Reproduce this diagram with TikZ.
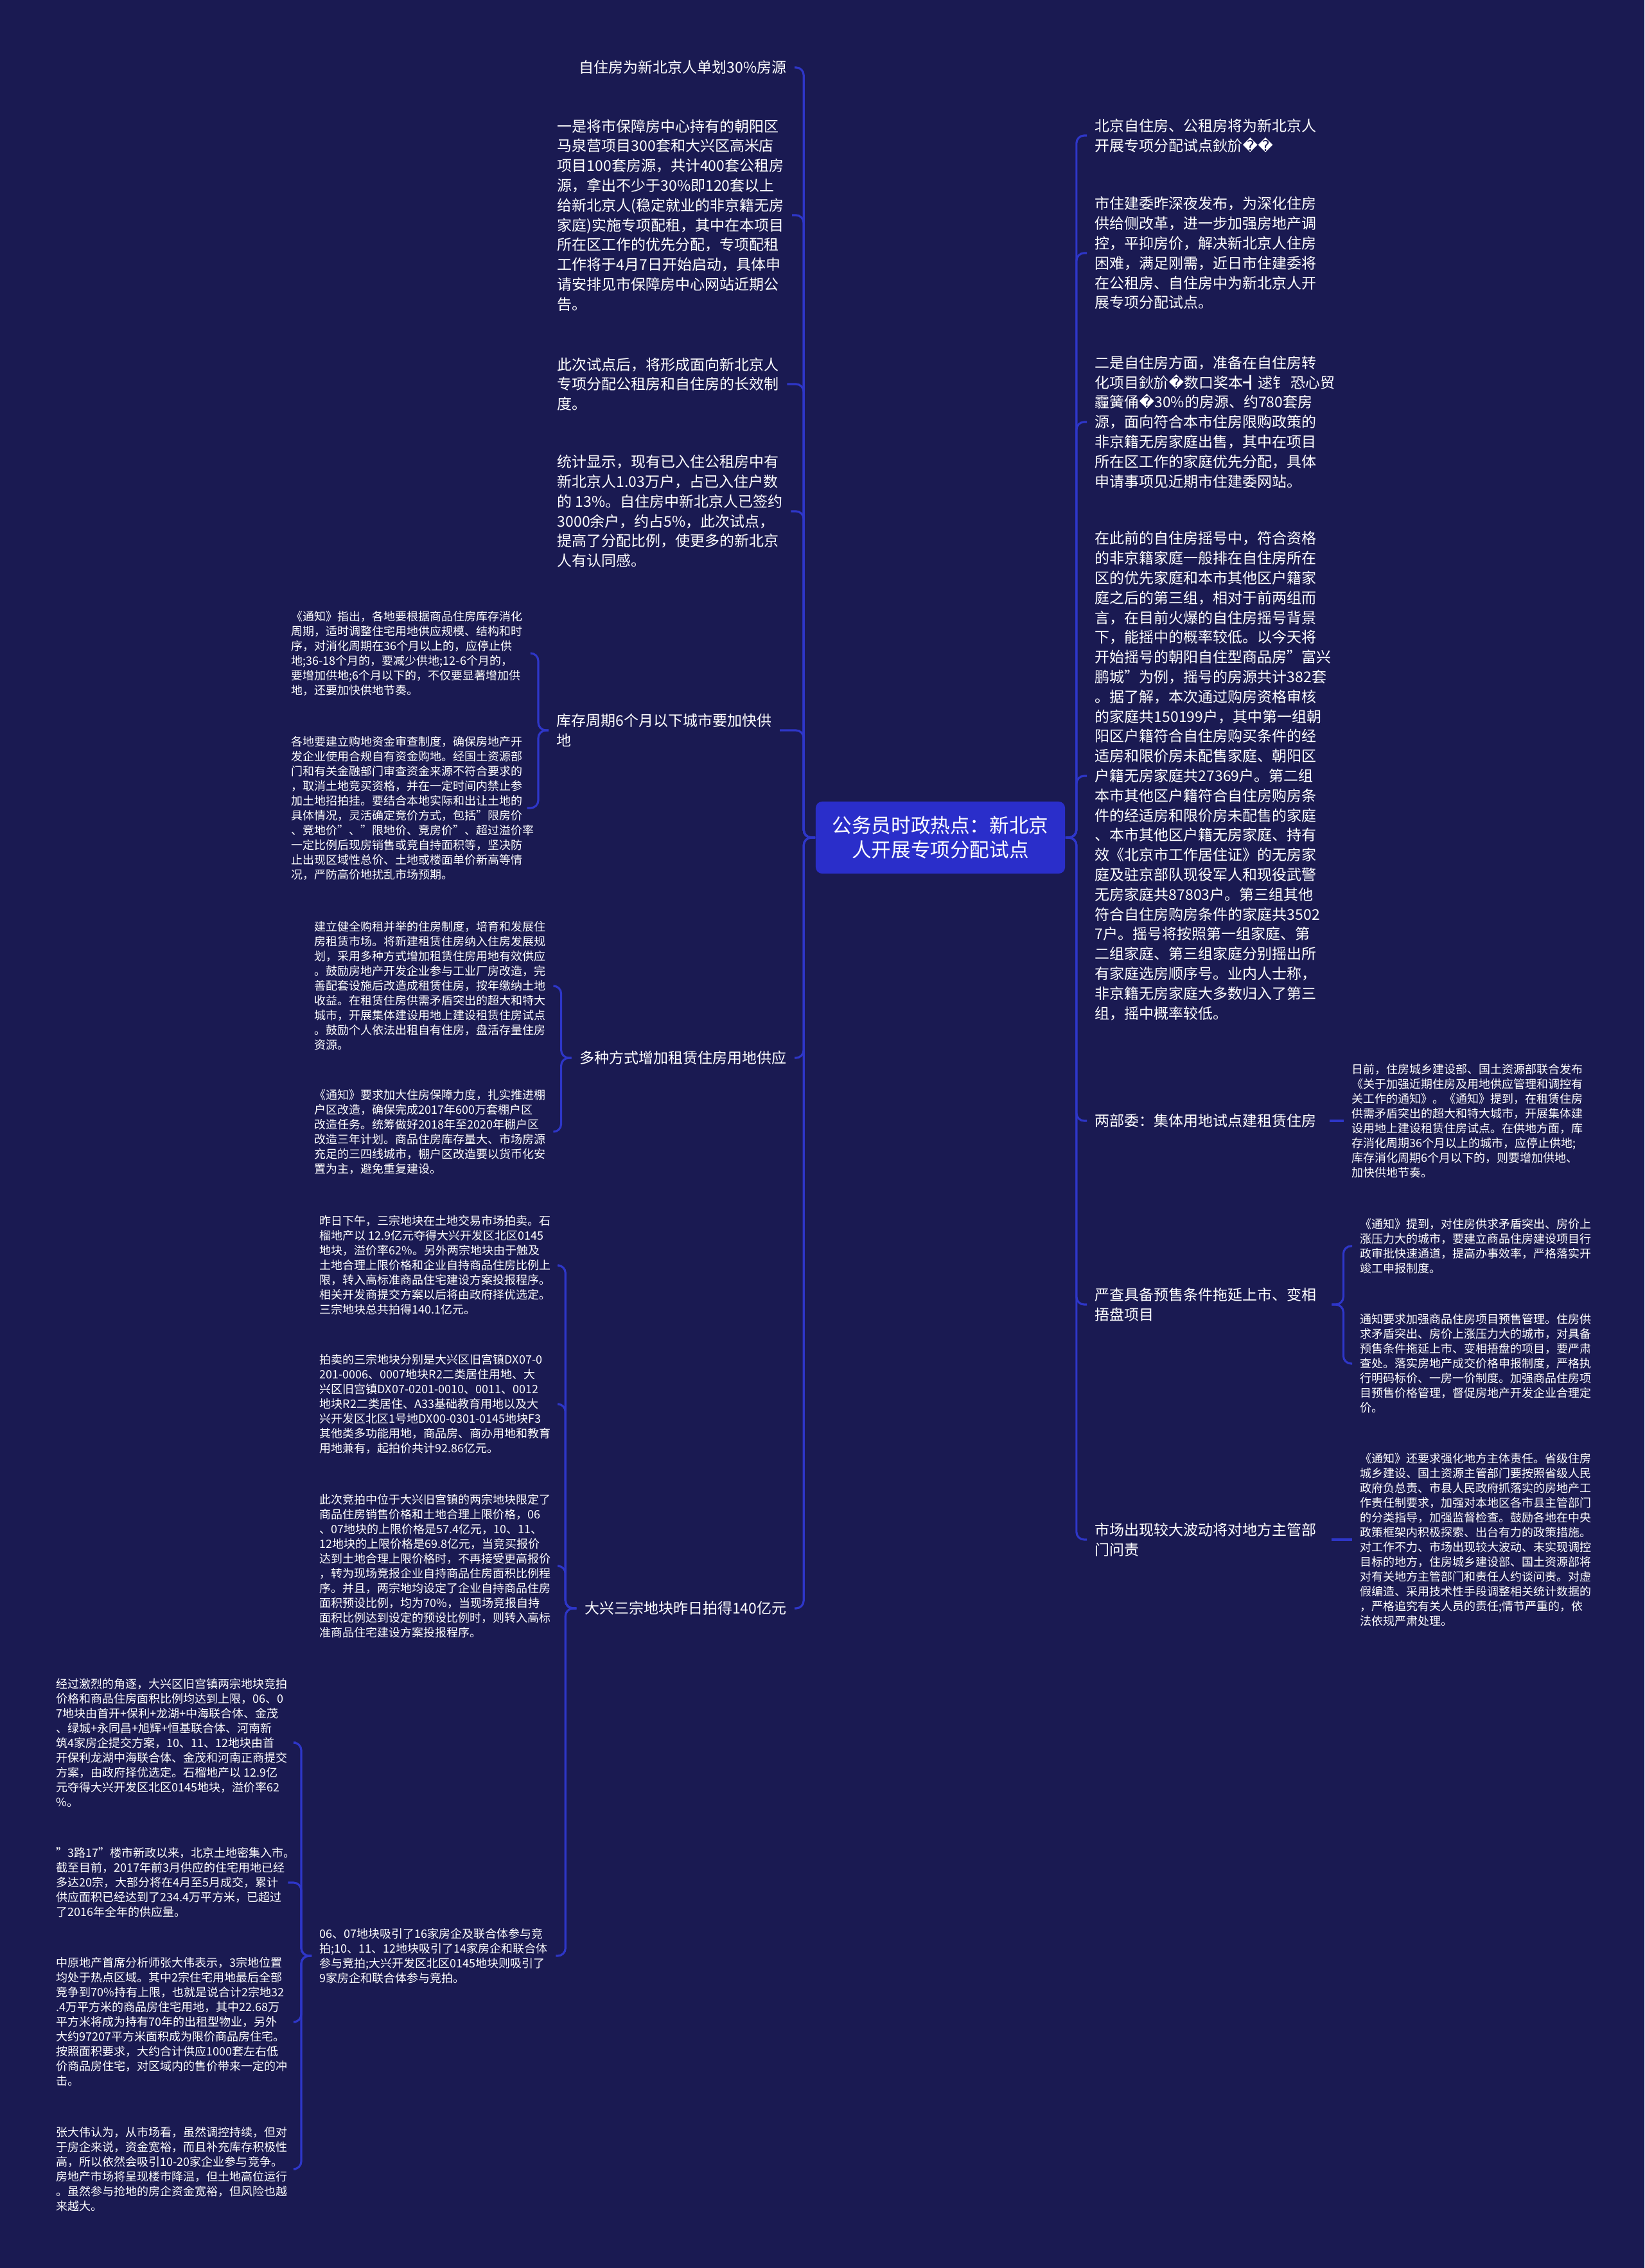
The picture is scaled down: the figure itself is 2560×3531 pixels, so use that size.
\documentclass[tikz,border=0pt]{standalone}
\usepackage{fontspec}
\setmainfont{Noto Sans CJK SC}
\newfontfamily\replfont{DejaVu Sans}
\usepackage{xcolor}
\usepackage{tikz}
\usetikzlibrary{positioning}

\definecolor{bgnavy}{HTML}{1A1A52}
\definecolor{lineblue}{HTML}{2E36C8}
\definecolor{rootblue}{HTML}{2A2ECA}

\begin{document}
\begin{tikzpicture}[
    x=0.01cm, y=-0.01cm,
    rootnode/.style={rectangle, fill=rootblue, rounded corners=0.1cm, text=white, font=\fontsize{8.7}{10.8}\selectfont, align=center, minimum width=3.88cm, minimum height=1.12cm, inner sep=0pt},
    topic/.style={text=white, font=\fontsize{6.54}{8.76}\selectfont, align=left, inner sep=0pt},
    leaf/.style={text=white, font=\fontsize{5.12}{6.54}\selectfont, align=left, inner sep=0pt},
    link/.style={draw=lineblue, line width=0.9pt, rounded corners=0.12cm, shorten >=0.12cm},
]

% Background
\fill[bgnavy] (0,0) rectangle (2560,3531);
\useasboundingbox (0,0) rectangle (2560,3531);

% Root
\node[rootnode] (root) at (1464, 1304) {公务员时政热点：新北京\\人开展专项分配试点};

% Left branches
\node[topic, anchor=east] (l1) at (1225, 105) {自住房为新北京人单划30\%房源};
\node[topic, anchor=west] (l2) at (867, 335) {一是将市保障房中心持有的朝阳区\\马泉营项目300套和大兴区高米店\\项目100套房源，共计400套公租房\\源，拿出不少于30\%即120套以上\\给新北京人(稳定就业的非京籍无房\\家庭)实施专项配租，其中在本项目\\所在区工作的优先分配，专项配租\\工作将于4月7日开始启动，具体申\\请安排见市保障房中心网站近期公\\告。};
\node[topic, anchor=west] (l3) at (867, 598) {此次试点后，将形成面向新北京人\\专项分配公租房和自住房的长效制\\度。};
\node[topic, anchor=west] (l4) at (867, 796) {统计显示，现有已入住公租房中有\\新北京人1.03万户，占已入住户数\\的 13\%。自住房中新北京人已签约\\3000余户，约占5\%，此次试点，\\提高了分配比例，使更多的新北京\\人有认同感。};
\node[topic, anchor=west] (l5) at (866, 1137) {库存周期6个月以下城市要加快供\\地};
\node[topic, anchor=east] (l6) at (1225, 1647) {多种方式增加租赁住房用地供应};
\node[topic, anchor=east] (l7) at (1225, 2504) {大兴三宗地块昨日拍得140亿元};

% Stock cycle details
\node[leaf, anchor=west] (l5a) at (453, 1017) {《通知》指出，各地要根据商品住房库存消化\\周期，适时调整住宅用地供应规模、结构和时\\序，对消化周期在36个月以上的，应停止供\\地;36-18个月的，要减少供地;12-6个月的，\\要增加供地;6个月以下的，不仅要显著增加供\\地，还要加快供地节奏。};
\node[leaf, anchor=west] (l5b) at (453, 1258) {各地要建立购地资金审查制度，确保房地产开\\发企业使用合规自有资金购地。经国土资源部\\门和有关金融部门审查资金来源不符合要求的\\，取消土地竞买资格，并在一定时间内禁止参\\加土地招拍挂。要结合本地实际和出让土地的\\具体情况，灵活确定竞价方式，包括"限房价\\、竞地价"、"限地价、竞房价"、超过溢价率\\一定比例后现房销售或竞自持面积等，坚决防\\止出现区域性总价、土地或楼面单价新高等情\\况，严防高价地扰乱市场预期。};

% Rental land details
\node[leaf, anchor=west] (l6a) at (489, 1535) {建立健全购租并举的住房制度，培育和发展住\\房租赁市场。将新建租赁住房纳入住房发展规\\划，采用多种方式增加租赁住房用地有效供应\\。鼓励房地产开发企业参与工业厂房改造，完\\善配套设施后改造成租赁住房，按年缴纳土地\\收益。在租赁住房供需矛盾突出的超大和特大\\城市，开展集体建设用地上建设租赁住房试点\\。鼓励个人依法出租自有住房，盘活存量住房\\资源。};
\node[leaf, anchor=west] (l6b) at (489, 1762) {《通知》要求加大住房保障力度，扎实推进棚\\户区改造，确保完成2017年600万套棚户区\\改造任务。统筹做好2018年至2020年棚户区\\改造三年计划。商品住房库存量大、市场房源\\充足的三四线城市，棚户区改造要以货币化安\\置为主，避免重复建设。};

% Daxing auction details
\node[leaf, anchor=west] (l7a) at (497, 1970) {昨日下午，三宗地块在土地交易市场拍卖。石\\榴地产以 12.9亿元夺得大兴开发区北区0145\\地块，溢价率62\%。另外两宗地块由于触及\\土地合理上限价格和企业自持商品住房比例上\\限，转入高标准商品住宅建设方案投报程序。\\相关开发商提交方案以后将由政府择优选定。\\三宗地块总共拍得140.1亿元。};
\node[leaf, anchor=west] (l7b) at (497, 2186) {拍卖的三宗地块分别是大兴区旧宫镇DX07-0\\201-0006、0007地块R2二类居住用地、大\\兴区旧宫镇DX07-0201-0010、0011、0012\\地块R2二类居住、A33基础教育用地以及大\\兴开发区北区1号地DX00-0301-0145地块F3\\其他类多功能用地，商品房、商办用地和教育\\用地兼有，起拍价共计92.86亿元。};
\node[leaf, anchor=west] (l7c) at (497, 2438) {此次竞拍中位于大兴旧宫镇的两宗地块限定了\\商品住房销售价格和土地合理上限价格，06\\、07地块的上限价格是57.4亿元，10、11、\\12地块的上限价格是69.8亿元，当竞买报价\\达到土地合理上限价格时，不再接受更高报价\\，转为现场竞报企业自持商品住房面积比例程\\序。并且，两宗地均设定了企业自持商品住房\\面积预设比例，均为70\%，当现场竞报自持\\面积比例达到设定的预设比例时，则转入高标\\准商品住宅建设方案投报程序。};
\node[leaf, anchor=west] (l7d) at (497, 3045) {06、07地块吸引了16家房企及联合体参与竞\\拍;10、11、12地块吸引了14家房企和联合体\\参与竞拍;大兴开发区北区0145地块则吸引了\\9家房企和联合体参与竞拍。};

% Bidding details
\node[leaf, anchor=west] (bid1) at (87, 2713) {经过激烈的角逐，大兴区旧宫镇两宗地块竞拍\\价格和商品住房面积比例均达到上限，06、0\\7地块由首开+保利+龙湖+中海联合体、金茂\\、绿城+永同昌+旭辉+恒基联合体、河南新\\筑4家房企提交方案，10、11、12地块由首\\开保利龙湖中海联合体、金茂和河南正商提交\\方案，由政府择优选定。石榴地产以 12.9亿\\元夺得大兴开发区北区0145地块，溢价率62\\\%。};
\node[leaf, anchor=west] (bid2) at (87, 2931) {"3路17"楼市新政以来，北京土地密集入市。\\截至目前，2017年前3月供应的住宅用地已经\\多达20宗，大部分将在4月至5月成交，累计\\供应面积已经达到了234.4万平方米，已超过\\了2016年全年的供应量。};
\node[leaf, anchor=west] (bid3) at (87, 3148) {中原地产首席分析师张大伟表示，3宗地位置\\均处于热点区域。其中2宗住宅用地最后全部\\竞争到70\%持有上限，也就是说合计2宗地32\\.4万平方米的商品房住宅用地，其中22.68万\\平方米将成为持有70年的出租型物业，另外\\大约97207平方米面积成为限价商品房住宅。\\按照面积要求，大约合计供应1000套左右低\\价商品房住宅，对区域内的售价带来一定的冲\\击。};
\node[leaf, anchor=west] (bid4) at (87, 3377) {张大伟认为，从市场看，虽然调控持续，但对\\于房企来说，资金宽裕，而且补充库存积极性\\高，所以依然会吸引10-20家企业参与竞争。\\房地产市场将呈现楼市降温，但土地高位运行\\。虽然参与抢地的房企资金宽裕，但风险也越\\来越大。};

% Right branches
\node[topic, anchor=west] (r1) at (1704, 211) {北京自住房、公租房将为新北京人\\开展专项分配试点鈥斺{\replfont ��}};
\node[topic, anchor=west] (r2) at (1704, 394) {市住建委昨深夜发布，为深化住房\\供给侧改革，进一步加强房地产调\\控，平抑房价，解决新北京人住房\\困难，满足刚需，近日市住建委将\\在公租房、自住房中为新北京人开\\展专项分配试点。};
\node[topic, anchor=west] (r3) at (1704, 657) {二是自住房方面，准备在自住房转\\化项目鈥斺{\replfont �}数口奖本┫逑钅 恐心贸\\霾簧俑{\replfont �}30\%的房源、约780套房\\源，面向符合本市住房限购政策的\\非京籍无房家庭出售，其中在项目\\所在区工作的家庭优先分配，具体\\申请事项见近期市住建委网站。};
\node[topic, anchor=west] (r4) at (1704, 1208) {在此前的自住房摇号中，符合资格\\的非京籍家庭一般排在自住房所在\\区的优先家庭和本市其他区户籍家\\庭之后的第三组，相对于前两组而\\言，在目前火爆的自住房摇号背景\\下，能摇中的概率较低。以今天将\\开始摇号的朝阳自住型商品房"富兴\\鹏城"为例，摇号的房源共计382套\\。据了解，本次通过购房资格审核\\的家庭共150199户，其中第一组朝\\阳区户籍符合自住房购买条件的经\\适房和限价房未配售家庭、朝阳区\\户籍无房家庭共27369户。第二组\\本市其他区户籍符合自住房购房条\\件的经适房和限价房未配售的家庭\\、本市其他区户籍无房家庭、持有\\效《北京市工作居住证》的无房家\\庭及驻京部队现役军人和现役武警\\无房家庭共87803户。第三组其他\\符合自住房购房条件的家庭共3502\\7户。摇号将按照第一组家庭、第\\二组家庭、第三组家庭分别摇出所\\有家庭选房顺序号。业内人士称，\\非京籍无房家庭大多数归入了第三\\组，摇中概率较低。};
\node[topic, anchor=west] (r5) at (1704, 1745) {两部委：集体用地试点建租赁住房};
\node[topic, anchor=west] (r6) at (1704, 2031) {严查具备预售条件拖延上市、变相\\捂盘项目};
\node[topic, anchor=west] (r7) at (1704, 2397) {市场出现较大波动将对地方主管部\\门问责};

% Right details
\node[leaf, anchor=west] (r5a) at (2104, 1745) {日前，住房城乡建设部、国土资源部联合发布\\《关于加强近期住房及用地供应管理和调控有\\关工作的通知》。《通知》提到，在租赁住房\\供需矛盾突出的超大和特大城市，开展集体建\\设用地上建设租赁住房试点。在供地方面，库\\存消化周期36个月以上的城市，应停止供地;\\库存消化周期6个月以下的，则要增加供地、\\加快供地节奏。};
\node[leaf, anchor=west] (r6a) at (2117, 1940) {《通知》提到，对住房供求矛盾突出、房价上\\涨压力大的城市，要建立商品住房建设项目行\\政审批快速通道，提高办事效率，严格落实开\\竣工申报制度。};
\node[leaf, anchor=west] (r6b) at (2117, 2123) {通知要求加强商品住房项目预售管理。住房供\\求矛盾突出、房价上涨压力大的城市，对具备\\预售条件拖延上市、变相捂盘的项目，要严肃\\查处。落实房地产成交价格申报制度，严格执\\行明码标价、一房一价制度。加强商品住房项\\目预售价格管理，督促房地产开发企业合理定\\价。};
\node[leaf, anchor=west] (r7a) at (2117, 2397) {《通知》还要求强化地方主体责任。省级住房\\城乡建设、国土资源主管部门要按照省级人民\\政府负总责、市县人民政府抓落实的房地产工\\作责任制要求，加强对本地区各市县主管部门\\的分类指导，加强监督检查。鼓励各地在中央\\政策框架内积极探索、出台有力的政策措施。\\对工作不力、市场出现较大波动、未实现调控\\目标的地方，住房城乡建设部、国土资源部将\\对有关地方主管部门和责任人约谈问责。对虚\\假编造、采用技术性手段调整相关统计数据的\\，严格追究有关人员的责任;情节严重的，依\\法依规严肃处理。};

% Links root - left
\foreach \n in {l1,l2,l3,l4,l5,l6,l7}
  \draw[link] (root.west) -- ++(-18,0) |- (\n.east);
% Links root - right
\foreach \n in {r1,r2,r3,r4,r5,r6,r7}
  \draw[link] (root.east) -- ++(17,0) |- (\n.west);

% Links to details
\foreach \n in {l5a,l5b}
  \draw[link, shorten <=0.12cm] (l5.west) -- ++(-28,0) |- (\n.east);
\foreach \n in {l6a,l6b}
  \draw[link, shorten <=0.12cm] (l6.west) -- ++(-28,0) |- (\n.east);
\foreach \n in {l7a,l7b,l7c,l7d}
  \draw[link, shorten <=0.12cm] (l7.west) -- ++(-29,0) |- (\n.east);
\foreach \n in {bid1,bid2,bid3,bid4}
  \draw[link, shorten <=0.12cm] (l7d.west) -- ++(-28,0) |- (\n.east);
\draw[link, shorten <=0.2cm] (r5.east) -- (r5a.west);
\foreach \n in {r6a,r6b}
  \draw[link, shorten <=0.23cm] (r6.east) -- ++(41,0) |- (\n.west);
\draw[link, shorten <=0.23cm] (r7.east) -- (r7a.west);

\end{tikzpicture}
\end{document}
